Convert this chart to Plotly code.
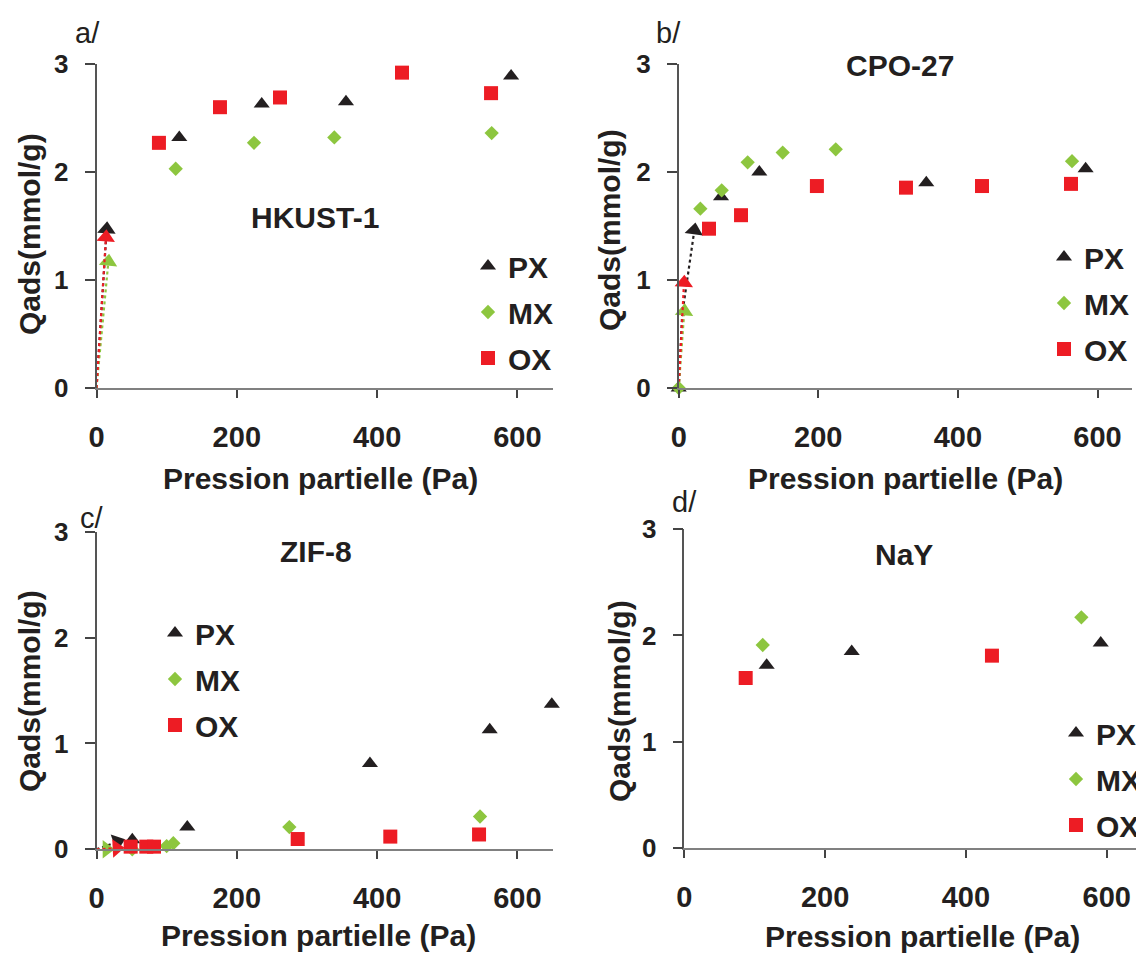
import plotly.graph_objects as go

# The page body has an 8 px margin: figure is sized to fit inside the window.
OFF = 8
FW, FH = 1136, 946
FONT = "Liberation Sans, Arial, Helvetica, sans-serif"
BLACK = "#231f20"
GREEN = "#8dc63f"
RED = "#ed1c24"

series_names = ["PX", "MX", "OX"]
x_ticks = [0, 200, 400, 600]
y_ticks = [0, 1, 2, 3]
panel_titles = ["HKUST-1", "CPO-27", "ZIF-8", "NaY"]
panel_tags = ["a/", "b/", "c/", "d/"]
x_title = "Pression partielle (Pa)"
y_title = "Qads(mmol/g)"

# ---- a/ HKUST-1 ----
a_px_x = [118, 235.5, 355.6, 591]
a_px_y = [2.32, 2.63, 2.65, 2.89]
a_mx_x = [112.9, 224.5, 339, 563.3]
a_mx_y = [2.03, 2.27, 2.32, 2.36]
a_ox_x = [89, 176, 261.6, 435.5, 562.4]
a_ox_y = [2.27, 2.60, 2.69, 2.92, 2.73]
a_px_arrow_x = [0, 14.5]
a_px_arrow_y = [0, 1.47]
a_mx_arrow_x = [0, 16.9]
a_mx_arrow_y = [0, 1.17]
a_ox_arrow_x = [0, 13.5]
a_ox_arrow_y = [0, 1.395]

# ---- b/ CPO-27 ----
b_px_x = [0, 60.6, 115.5, 354.7, 583]
b_px_y = [0, 1.77, 2.00, 1.90, 2.03]
b_mx_x = [0, 31, 61.6, 98.8, 149, 225, 563.5]
b_mx_y = [0, 1.66, 1.83, 2.09, 2.18, 2.21, 2.10]
b_ox_x = [43.4, 89.3, 198, 325.6, 434.5, 562]
b_ox_y = [1.475, 1.60, 1.87, 1.855, 1.87, 1.89]
b_px_arrow_x = [0, 5, 22.4]
b_px_arrow_y = [0, 0.68, 1.46]
b_mx_arrow_x = [0, 8]
b_mx_arrow_y = [0, 0.71]
b_ox_arrow_x = [0, 7.6]
b_ox_arrow_y = [0, 0.975]

# ---- c/ ZIF-8 ----
c_px_x = [51, 129.4, 389.8, 560.5, 649]
c_px_y = [0.09, 0.21, 0.81, 1.13, 1.37]
c_mx_x = [51, 100, 109.5, 274.9, 546.7]
c_mx_y = [0.0, 0.03, 0.057, 0.21, 0.31]
c_ox_x = [48.7, 71, 82, 286.8, 418.8, 545.3]
c_ox_y = [0.025, 0.025, 0.025, 0.097, 0.12, 0.14]
c_px_arrow_x = [0, 30]
c_px_arrow_y = [0, 0.07]
c_mx_arrow_x = [0, 14.5]
c_mx_arrow_y = [0, 0.0]
c_ox_arrow_x = [0, 28.8]
c_ox_arrow_y = [0, 0.01]

# ---- d/ NaY ----
d_px_x = [117, 237.8, 591.5]
d_px_y = [1.72, 1.85, 1.93]
d_mx_x = [111.4, 564]
d_mx_y = [1.91, 2.17]
d_ox_x = [87.2, 437]
d_ox_y = [1.60, 1.81]

panels = [
    dict(pts=[(a_px_x, a_px_y), (a_mx_x, a_mx_y), (a_ox_x, a_ox_y)],
         arrows=[(a_px_arrow_x, a_px_arrow_y), (a_mx_arrow_x, a_mx_arrow_y), (a_ox_arrow_x, a_ox_arrow_y)]),
    dict(pts=[(b_px_x, b_px_y), (b_mx_x, b_mx_y), (b_ox_x, b_ox_y)],
         arrows=[(b_px_arrow_x, b_px_arrow_y), (b_mx_arrow_x, b_mx_arrow_y), (b_ox_arrow_x, b_ox_arrow_y)]),
    dict(pts=[(c_px_x, c_px_y), (c_mx_x, c_mx_y), (c_ox_x, c_ox_y)],
         arrows=[(c_px_arrow_x, c_px_arrow_y), (c_mx_arrow_x, c_mx_arrow_y), (c_ox_arrow_x, c_ox_arrow_y)]),
    dict(pts=[(d_px_x, d_px_y), (d_mx_x, d_mx_y), (d_ox_x, d_ox_y)], arrows=[]),
]

colors = [BLACK, GREEN, RED]
symbols = ["triangle-up", "diamond", "square"]
sizes = [14, 11, 14]


def px2x(px):
    return (px - OFF) / FW


def px2y(py):
    return 1 - (py - OFF) / FH


# panel geometry in window pixels: (x at 0, x at 650, y at 0, y at 3)
geom = [
    (96.5, 552.5, 388, 64),
    (678.7, 1132.4, 388, 64),
    (96.5, 552.5, 849.3, 531.7),
    (684.3, 1141.9, 848.3, 529),
]
# legend symbol centre (first item)
legend_pos = [(488, 264), (1064, 255), (175, 631), (1076, 731)]

fig = go.Figure()

for i, p in enumerate(panels):
    sfx = "" if i == 0 else str(i + 1)
    xa, ya = "x" + sfx, "y" + sfx
    lg = "legend" + sfx
    for k, arr in enumerate(p["arrows"]):
        ax_, ay_ = arr
        n = len(ax_)
        fig.add_trace(go.Scatter(
            x=ax_, y=ay_, xaxis=xa, yaxis=ya, mode="lines+markers",
            line=dict(color=colors[k], width=2.2, dash="dot"),
            marker=dict(symbol="triangle-up", size=[0] * (n - 1) + [16], opacity=1,
                        color=colors[k], angleref="previous", line=dict(width=0)),
            showlegend=False, cliponaxis=False, hoverinfo="skip"))
    for k, (px, py) in enumerate(p["pts"]):
        fig.add_trace(go.Scatter(
            x=px, y=py, xaxis=xa, yaxis=ya, mode="markers", name=series_names[k],
            marker=dict(symbol=symbols[k], size=sizes[k], color=colors[k], opacity=1,
                        line=dict(width=0)),
            legend=lg, legendgroup=f"{i}{k}", cliponaxis=False))

layout = dict(width=FW, height=FH, margin=dict(l=0, r=0, t=0, b=0, autoexpand=False),
              paper_bgcolor="white", plot_bgcolor="rgba(0,0,0,0)", showlegend=True,
              font=dict(family=FONT, color=BLACK))

annotations = []
for i, (x0, x1, y0, y1) in enumerate(geom):
    sfx = "" if i == 0 else str(i + 1)
    layout["xaxis" + sfx] = dict(
        domain=[px2x(x0), px2x(x1)], range=[0, 650], anchor="y" + sfx,
        tickvals=x_ticks, ticks="outside", ticklen=8, tickwidth=1.5, tickcolor="#444",
        showline=True, linecolor="#808080", linewidth=2, showgrid=False, zeroline=False,
        tickfont=dict(size=29, family=FONT, color=BLACK, weight="bold"),
        ticklabelstandoff=14, fixedrange=True)
    layout["yaxis" + sfx] = dict(
        domain=[px2y(y0), px2y(y1)], range=[0, 3], anchor="x" + sfx,
        tickvals=y_ticks, ticks="outside", ticklen=10, tickwidth=1.5, tickcolor="#444",
        showline=True, linecolor="#555555", linewidth=1.5, showgrid=False, zeroline=False,
        tickfont=dict(size=26, family=FONT, color=BLACK, weight="bold"),
        ticklabelstandoff=11, fixedrange=True)
    lx, ly = legend_pos[i]
    layout["legend" + sfx] = dict(
        x=px2x(lx - 20), y=px2y(ly - 24), xanchor="left", yanchor="top",
        font=dict(size=30, family=FONT, color=BLACK, weight="bold"),
        bgcolor="rgba(0,0,0,0)", tracegroupgap=4, itemsizing="trace")


def ann(text, px, py, size, bold=True, angle=0):
    f = dict(size=size, family=FONT, color=BLACK)
    if bold:
        f["weight"] = "bold"
    return dict(text=text, x=px2x(px), y=px2y(py), xref="paper", yref="paper",
                xanchor="center", yanchor="middle", showarrow=False,
                textangle=angle, font=f)


for tag, (tx, ty) in zip(panel_tags, [(87, 33), (668, 33), (92, 518), (684, 502)]):
    annotations.append(ann(tag, tx, ty, 29, bold=False))
for t, (tx, ty) in zip(panel_titles, [(314.5, 218), (900, 65), (316, 551), (904, 554)]):
    annotations.append(ann(t, tx, ty, 30))
for (tx, ty) in [(320, 478), (905, 478), (318, 935), (922, 936)]:
    annotations.append(ann(x_title, tx, ty, 30))
for (tx, ty) in [(29, 234), (609, 230), (29, 691), (619, 701)]:
    annotations.append(ann(y_title, tx, ty, 30, angle=-90))

layout["annotations"] = annotations
fig.update_layout(**layout)
fig.write_html("out.html")
